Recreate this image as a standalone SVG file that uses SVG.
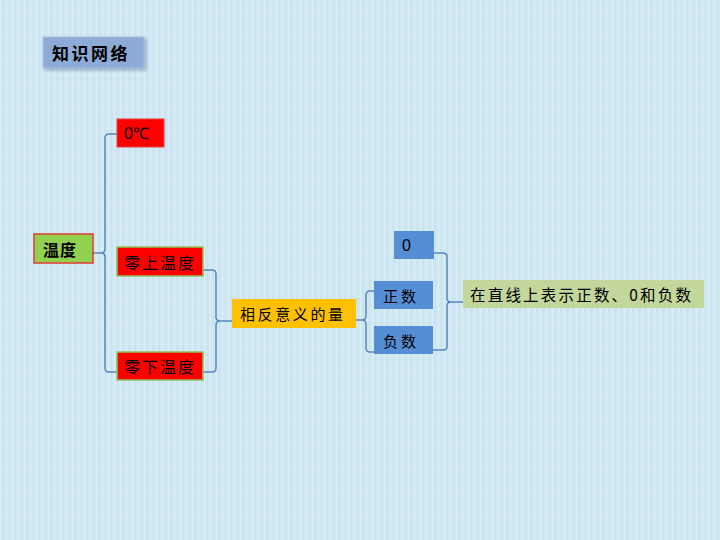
<svg xmlns="http://www.w3.org/2000/svg" width="720" height="540" viewBox="0 0 720 540">
<defs>
<pattern id="tex" width="6" height="6" patternUnits="userSpaceOnUse">
<rect width="6" height="6" fill="#cfe7f3"/>
<rect x="0" y="0" width="1" height="6" fill="#dbeef8"/>
<rect x="3" y="0" width="1" height="6" fill="#c7e1ef"/>
<rect x="0" y="2" width="6" height="1" fill="#d8ecf6" opacity="0.5"/>
</pattern>
<filter id="sh" x="-10%" y="-10%" width="130%" height="140%">
<feDropShadow dx="2" dy="2" stdDeviation="1.5" flood-color="#6d8aa8" flood-opacity="0.6"/>
</filter>
</defs>
<style>
.cn{font-family:"Noto Sans CJK SC","Noto Sans",sans-serif;fill:#000;dominant-baseline:central}
.la{font-family:"Liberation Sans",Arial,sans-serif;fill:#000;dominant-baseline:central}
.con{fill:none;stroke:#5a86bd;stroke-width:1.5}
</style>
<rect width="720" height="540" fill="url(#tex)"/>

<g id="title">
<rect x="43" y="37" width="101" height="31" fill="#8eaad6" stroke="#a9bfe2" stroke-width="1" filter="url(#sh)"/>
<text class="cn" x="52" y="52.5" font-size="17" font-weight="bold" letter-spacing="2.5">知识网络</text>
</g>

<g id="connectors">
<path class="con" d="M117,134 H109 Q105,134 105,138 V249 Q105,253 101,253 H93 M101,253 Q105,253 105,257 V368 Q105,372 109,372 H117"/>
<path class="con" d="M203,270 H212 Q216,270 216,274 V317 Q216,321 220,321 H232 M220,321 Q216,321 216,325 V368 Q216,372 212,372 H203"/>
<path class="con" d="M374,291 H370 Q366,291 366,295 V316 Q366,320 362,320 H356 M362,320 Q366,320 366,324 V348 Q366,352 370,352 H374"/>
<path class="con" d="M434,253 H443 Q447,253 447,257 V298 Q447,302 451,302 H463 M451,302 Q447,302 447,306 V346 Q447,350 443,350 H433"/>
</g>

<g id="n_wendu">
<rect x="34" y="234" width="59" height="29" fill="#92d050" stroke="#e03c31" stroke-width="1.5"/>
<text class="cn" x="43" y="248.5" font-size="16" font-weight="bold" letter-spacing="1">温度</text>
</g>

<g id="n_0c">
<rect x="117" y="119" width="47" height="28" fill="#ff0000" stroke="#e8403a" stroke-width="1"/>
<text class="la" x="124" y="133" font-size="16">0℃</text>
</g>

<g id="n_lingshang">
<rect x="117" y="247" width="86" height="29" fill="#ff0000" stroke="#8fc55a" stroke-width="1.5"/>
<text class="cn" x="124" y="261.5" font-size="16" letter-spacing="2">零上温度</text>
</g>

<g id="n_lingxia">
<rect x="117" y="352" width="86" height="28" fill="#ff0000" stroke="#8fc55a" stroke-width="1.5"/>
<text class="cn" x="124" y="366" font-size="16" letter-spacing="2">零下温度</text>
</g>

<g id="n_xiangfan">
<rect x="232" y="299" width="124" height="29" fill="#ffc000"/>
<text class="cn" x="240" y="313.5" font-size="15" letter-spacing="2.6">相反意义的量</text>
</g>

<g id="n_zero">
<rect x="394" y="231" width="40" height="28" fill="#558ed5"/>
<text class="la" x="402" y="245" font-size="16">0</text>
</g>

<g id="n_zhengshu">
<rect x="374" y="281" width="59" height="28" fill="#558ed5"/>
<text class="cn" x="383" y="295" font-size="15" letter-spacing="3">正数</text>
</g>

<g id="n_fushu">
<rect x="374" y="326" width="59" height="28" fill="#558ed5"/>
<text class="cn" x="383" y="340" font-size="15" letter-spacing="3">负数</text>
</g>

<g id="n_zhixian">
<rect x="463" y="280" width="241" height="28" fill="#c3d69b"/>
<text class="cn" x="470" y="294" font-size="15.5" letter-spacing="2.2">在直线上表示正数、0和负数</text>
</g>
</svg>
